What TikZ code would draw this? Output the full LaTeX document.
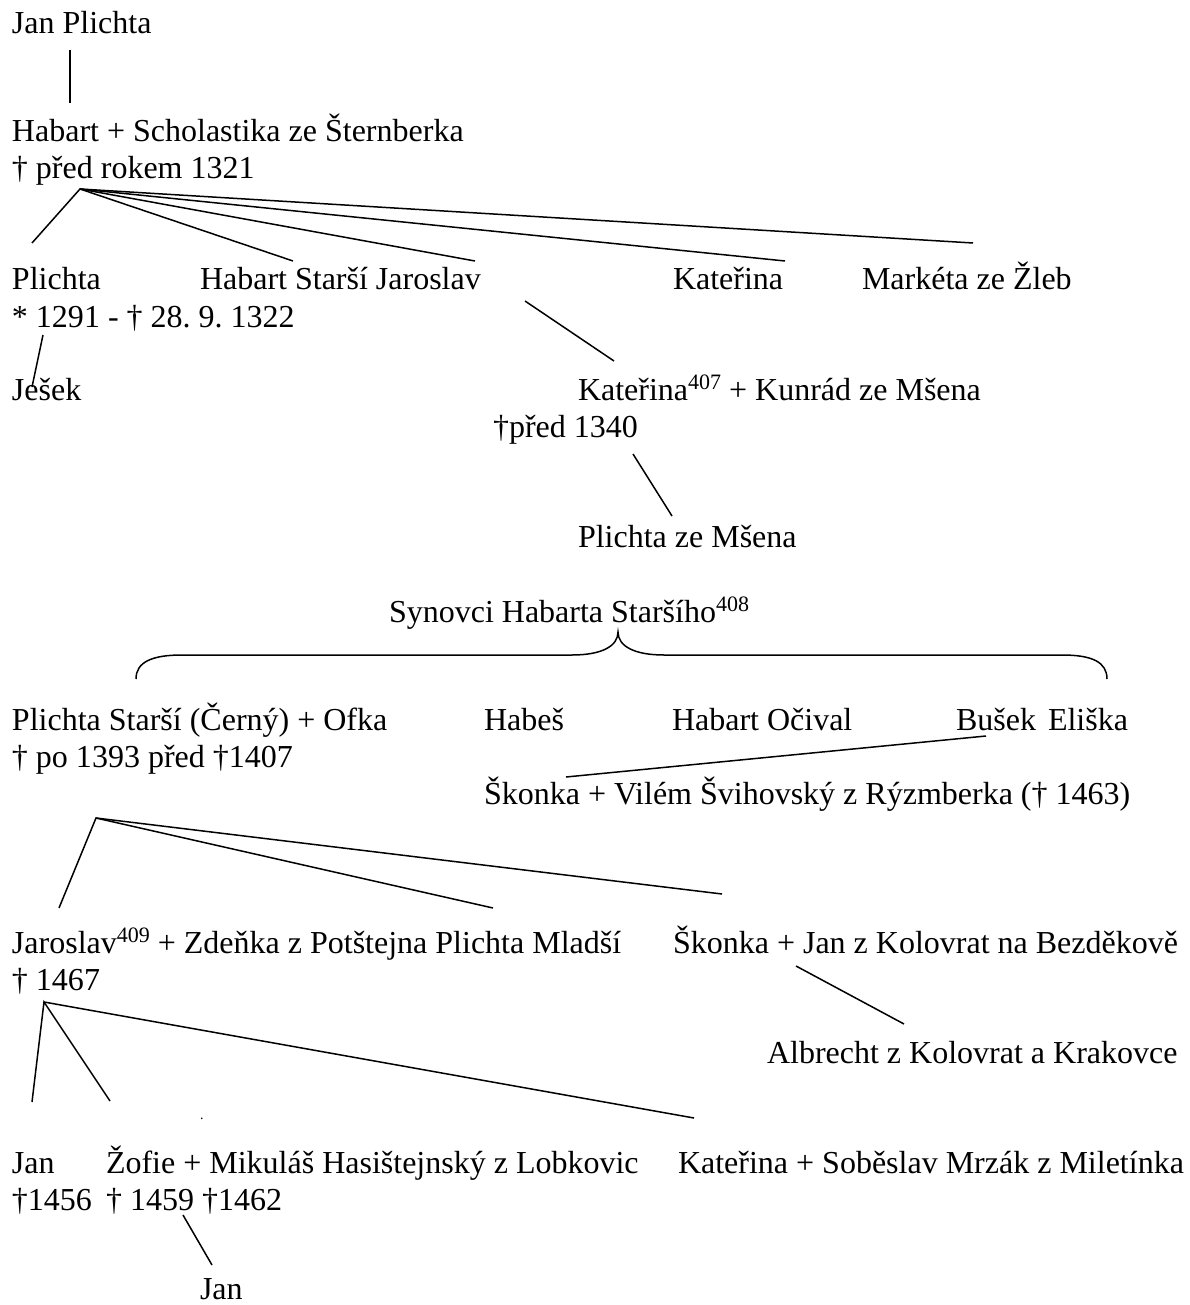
\documentclass[tikz,border=0pt]{standalone}
\usepackage{fontspec}
\setmainfont{Liberation Serif}
\newcommand\supnum[1]{\raisebox{11pt}{\fontsize{22}{22}\selectfont #1}}
\begin{document}
\frenchspacing
\begin{tikzpicture}[x=1pt,y=-1pt,
  txt/.style={anchor=base west, inner sep=0pt, outer sep=0pt, font=\fontsize{32}{37}\selectfont\frenchspacing},
  ln/.style={line width=1.5pt}]
\useasboundingbox (0,0) rectangle (1189,1305);

% ---------- texts ----------
\node[txt] (janplichta) at (12,34) {Jan Plichta};
\node[txt] (habart) at (12,142) {Habart + Scholastika ze Šternberka};
\node[txt] (habartd) at (12,179) {† před rokem 1321};
\node[txt] (plichta) at (12,290) {Plichta};
\node[txt] (plichtad) at (12,327) {* 1291 - † 28. 9. 1322};
\node[txt] (habjar) at (200,290) {Habart Starší Jaroslav};
\node[txt] (kat1) at (673,290) {Kateřina};
\node[txt] (marketa) at (862,290) {Markéta ze Žleb};
\node[txt] (jesek) at (12,400) {Ješek};
\node[txt] (kat2) at (578,400) {Kateřina\supnum{407} + Kunrád ze Mšena};
\node[txt] (kat2d) at (493,437) {†před 1340};
\node[txt] (plmsena) at (578,547) {Plichta ze Mšena};
\node[txt] (synovci) at (389,622) {Synovci Habarta Staršího\supnum{408}};
\node[txt] (plstarsi) at (12,730) {Plichta Starší (Černý) + Ofka};
\node[txt] (plstarsid) at (12,767) {† po 1393 před †1407};
\node[txt] (habes) at (484,730) {Habeš};
\node[txt] (ocival) at (672,730) {Habart Očival};
\node[txt] (busek) at (956,730) {Bušek};
\node[txt] (eliska) at (1048,730) {Eliška};
\node[txt] (skonka1) at (484,804) {Škonka + Vilém Švihovský z Rýzmberka († 1463)};
\node[txt] (jaroslav) at (12,953) {Jaroslav\supnum{409} + Zdeňka z Potštejna Plichta Mladší};
\node[txt] (jaroslavd) at (12,990) {† 1467};
\node[txt] (skonka2) at (673,953) {Škonka + Jan z Kolovrat na Bezděkově};
\node[txt] (albrecht) at (767,1063) {Albrecht z Kolovrat a Krakovce};
\node[txt, font=\fontsize{14}{14}\selectfont] (dot) at (200,1119) {.};
\node[txt] (jan1) at (12,1173) {Jan};
\node[txt] (jan1d) at (12,1210) {†1456};
\node[txt] (zofie) at (106,1173) {Žofie + Mikuláš Hasištejnský z Lobkovic};
\node[txt] (zofied) at (106,1210) {† 1459 †1462};
\node[txt] (kat3) at (678,1173) {Kateřina + Soběslav Mrzák z Miletínka};
\node[txt] (jan2) at (200,1299) {Jan};

% ---------- connector points ----------
\coordinate (v1a) at (70,50);   \coordinate (v1b) at (70,103);
\coordinate (f1) at (80,189);
\coordinate (f1a) at (32,243);
\coordinate (f1b) at (293,261);
\coordinate (f1c) at (475,261);
\coordinate (f1d) at (785,261);
\coordinate (f1e) at (973,243);
\coordinate (js1) at (43,335);  \coordinate (js2) at (32,387);
\coordinate (k1) at (525,301);  \coordinate (k2) at (614,361);
\coordinate (m1) at (633,454);  \coordinate (m2) at (672,516);
\coordinate (b1) at (986,736);  \coordinate (b2) at (566,777);
\coordinate (f2) at (96,818);
\coordinate (f2a) at (59,908);
\coordinate (f2b) at (493,908);
\coordinate (f2c) at (722,894);
\coordinate (a1) at (796,966);  \coordinate (a2) at (904,1024);
\coordinate (f3) at (44,1002);
\coordinate (f3a) at (32,1102);
\coordinate (f3b) at (110,1101);
\coordinate (f3c) at (694,1118);
\coordinate (z1) at (183,1215); \coordinate (z2) at (212,1265);

% ---------- connectors ----------
\draw[ln] (v1a) -- (v1b);
\draw[ln] (f1a) -- (f1) -- (f1b);
\draw[ln] (f1) -- (f1c);
\draw[ln] (f1) -- (f1d);
\draw[ln] (f1) -- (f1e);
\draw[ln] (js1) -- (js2);
\draw[ln] (k1) -- (k2);
\draw[ln] (m1) -- (m2);
\draw[ln] (b1) -- (b2);
\draw[ln] (f2a) -- (f2) -- (f2b);
\draw[ln] (f2) -- (f2c);
\draw[ln] (a1) -- (a2);
\draw[ln] (f3a) -- (f3) -- (f3b);
\draw[ln] (f3) -- (f3c);
\draw[ln] (z1) -- (z2);

% ---------- brace ----------
\draw[ln] (136,679) .. controls (136,662) and (152,655) .. (182,655)
  -- (572,655) .. controls (602,655) and (618,646) .. (618,632)
  .. controls (618,646) and (634,655) .. (664,655)
  -- (1062,655) .. controls (1092,655) and (1107,662) .. (1107,679);
\end{tikzpicture}
\end{document}
